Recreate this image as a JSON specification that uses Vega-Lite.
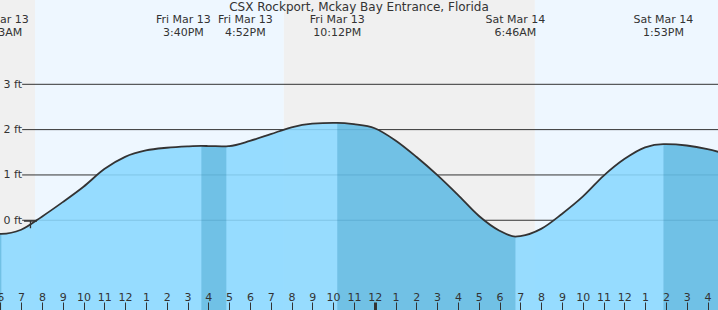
{
  "$schema": "https://vega.github.io/schema/vega-lite/v6.json",
  "width": 718,
  "height": 310,
  "autosize": "none",
  "padding": 0,
  "background": "#ffffff",
  "config": {"view": {"stroke": null}, "font": "DejaVu Sans"},
  "title": {
    "text": "CSX Rockport, Mckay Bay Entrance, Florida",
    "anchor": "middle",
    "offset": -12,
    "dy": 11,
    "baseline": "alphabetic",
    "font": "DejaVu Sans",
    "fontSize": 12,
    "fontWeight": "normal",
    "color": "#333333"
  },
  "datasets": {
    "daylight_bands": [
      {"start": "2026-03-13T00:00:00Z", "end": "2026-03-13T07:40:00Z", "period": "night"},
      {"start": "2026-03-13T07:40:00Z", "end": "2026-03-13T19:38:00Z", "period": "day"},
      {"start": "2026-03-13T19:38:00Z", "end": "2026-03-14T07:42:00Z", "period": "night"},
      {"start": "2026-03-14T07:42:00Z", "end": "2026-03-14T20:00:00Z", "period": "day"}
    ],
    "grid_levels": [
      {"level": 0, "from": "2026-03-13T07:03:00Z", "to": "2026-03-14T17:00:00Z"},
      {"level": 1, "from": "2026-03-13T07:03:00Z", "to": "2026-03-14T17:00:00Z"},
      {"level": 2, "from": "2026-03-13T07:03:00Z", "to": "2026-03-14T17:00:00Z"},
      {"level": 3, "from": "2026-03-13T07:03:00Z", "to": "2026-03-14T17:00:00Z"}
    ],
    "tide_curve": [
      {"time": "2026-03-13T05:00:00Z", "ft": -0.2, "ebb": "A"},
      {"time": "2026-03-13T06:00:00Z", "ft": -0.3, "ebb": "A"},
      {"time": "2026-03-13T06:03:00Z", "ft": -0.3, "ebb": "A"},
      {"time": "2026-03-13T07:00:00Z", "ft": -0.21},
      {"time": "2026-03-13T08:00:00Z", "ft": 0.08},
      {"time": "2026-03-13T09:00:00Z", "ft": 0.4},
      {"time": "2026-03-13T10:00:00Z", "ft": 0.74},
      {"time": "2026-03-13T11:00:00Z", "ft": 1.13},
      {"time": "2026-03-13T12:00:00Z", "ft": 1.4},
      {"time": "2026-03-13T13:00:00Z", "ft": 1.54},
      {"time": "2026-03-13T14:00:00Z", "ft": 1.6},
      {"time": "2026-03-13T15:00:00Z", "ft": 1.63},
      {"time": "2026-03-13T15:40:00Z", "ft": 1.64, "ebb": "B"},
      {"time": "2026-03-13T16:00:00Z", "ft": 1.638, "ebb": "B"},
      {"time": "2026-03-13T16:52:00Z", "ft": 1.63, "ebb": "B"},
      {"time": "2026-03-13T17:00:00Z", "ft": 1.635},
      {"time": "2026-03-13T18:00:00Z", "ft": 1.75},
      {"time": "2026-03-13T19:00:00Z", "ft": 1.9},
      {"time": "2026-03-13T20:00:00Z", "ft": 2.05},
      {"time": "2026-03-13T21:00:00Z", "ft": 2.13},
      {"time": "2026-03-13T22:00:00Z", "ft": 2.15},
      {"time": "2026-03-13T22:12:00Z", "ft": 2.15, "ebb": "C"},
      {"time": "2026-03-13T23:00:00Z", "ft": 2.12, "ebb": "C"},
      {"time": "2026-03-14T00:00:00Z", "ft": 2.03, "ebb": "C"},
      {"time": "2026-03-14T01:00:00Z", "ft": 1.76, "ebb": "C"},
      {"time": "2026-03-14T02:00:00Z", "ft": 1.4, "ebb": "C"},
      {"time": "2026-03-14T03:00:00Z", "ft": 1.0, "ebb": "C"},
      {"time": "2026-03-14T04:00:00Z", "ft": 0.56, "ebb": "C"},
      {"time": "2026-03-14T05:00:00Z", "ft": 0.1, "ebb": "C"},
      {"time": "2026-03-14T06:00:00Z", "ft": -0.23, "ebb": "C"},
      {"time": "2026-03-14T06:46:00Z", "ft": -0.36, "ebb": "C"},
      {"time": "2026-03-14T07:00:00Z", "ft": -0.35},
      {"time": "2026-03-14T08:00:00Z", "ft": -0.19},
      {"time": "2026-03-14T09:00:00Z", "ft": 0.14},
      {"time": "2026-03-14T10:00:00Z", "ft": 0.52},
      {"time": "2026-03-14T11:00:00Z", "ft": 0.98},
      {"time": "2026-03-14T12:00:00Z", "ft": 1.35},
      {"time": "2026-03-14T13:00:00Z", "ft": 1.61},
      {"time": "2026-03-14T13:53:00Z", "ft": 1.68, "ebb": "D"},
      {"time": "2026-03-14T14:00:00Z", "ft": 1.68, "ebb": "D"},
      {"time": "2026-03-14T15:00:00Z", "ft": 1.65, "ebb": "D"},
      {"time": "2026-03-14T16:00:00Z", "ft": 1.57, "ebb": "D"},
      {"time": "2026-03-14T17:00:00Z", "ft": 1.45, "ebb": "D"}
    ],
    "tide_events": [
      {"time": "2026-03-13T06:03:00Z", "label": "Fri Mar 13\n6:03AM", "shift": "none", "ft": -0.3},
      {"time": "2026-03-13T15:40:00Z", "label": "Fri Mar 13\n3:40PM", "shift": "left", "ft": 1.64},
      {"time": "2026-03-13T16:52:00Z", "label": "Fri Mar 13\n4:52PM", "shift": "right", "ft": 1.63},
      {"time": "2026-03-13T22:12:00Z", "label": "Fri Mar 13\n10:12PM", "shift": "none", "ft": 2.15},
      {"time": "2026-03-14T06:46:00Z", "label": "Sat Mar 14\n6:46AM", "shift": "none", "ft": -0.36},
      {"time": "2026-03-14T13:53:00Z", "label": "Sat Mar 14\n1:53PM", "shift": "none", "ft": 1.68}
    ],
    "current_time": [{"time": "2026-03-13T07:27:00Z", "ft": -0.095}]
  },
  "layer": [
    {
      "data": {"name": "daylight_bands"},
      "mark": {"type": "rect", "clip": true},
      "encoding": {
        "x": {
          "field": "start",
          "type": "temporal",
          "scale": {"type": "utc", "domain": [1773381548000, 1773505817000]},
          "axis": {
            "orient": "bottom",
            "title": null,
            "format": "%-I",
            "tickCount": 40,
            "tickSize": -8,
            "tickColor": "#333333",
            "tickWidth": {"condition": {"test": "utchours(datum.value) === 0", "value": 3}, "value": 1},
            "labelPadding": -1.5,
            "labelBaseline": "alphabetic",
            "labelFont": "DejaVu Sans",
            "labelFontSize": 11,
            "labelColor": "#333333",
            "labelFlush": false,
            "labelOverlap": false,
            "labelBound": false,
            "domain": false,
            "grid": false,
            "zindex": 1
          }
        },
        "x2": {"field": "end"},
        "color": {
          "field": "period",
          "type": "nominal",
          "scale": {"domain": ["day", "night"], "range": ["#eef7ff", "#f0f0f0"]},
          "legend": null
        }
      }
    },
    {
      "data": {"name": "grid_levels"},
      "mark": {"type": "rule", "stroke": "#333333", "strokeWidth": 1, "clip": true},
      "encoding": {
        "y": {
          "field": "level",
          "type": "quantitative",
          "scale": {"domain": [-1.98, 4.86], "nice": false, "zero": false},
          "axis": {
            "orient": "left",
            "title": null,
            "values": [0, 1, 2, 3],
            "labelExpr": "datum.value + ' ft'",
            "ticks": false,
            "domain": false,
            "grid": false,
            "labelAlign": "left",
            "labelBaseline": "middle",
            "labelPadding": -3,
            "labelFont": "DejaVu Sans",
            "labelFontSize": 11,
            "labelColor": "#333333",
            "zindex": 1
          }
        },
        "x": {"field": "from", "type": "temporal"},
        "x2": {"field": "to"}
      }
    },
    {
      "data": {"name": "tide_curve"},
      "mark": {"type": "area", "interpolate": "monotone", "fill": "#8ad8ff", "fillOpacity": 0.88, "clip": true},
      "encoding": {
        "x": {"field": "time", "type": "temporal"},
        "y": {"field": "ft", "type": "quantitative"},
        "y2": {"datum": -3}
      }
    },
    {
      "data": {"name": "tide_curve"},
      "transform": [{"filter": "isValid(datum.ebb)"}],
      "mark": {"type": "area", "interpolate": "monotone", "fill": "#006e9b", "fillOpacity": 0.25, "clip": true},
      "encoding": {
        "x": {"field": "time", "type": "temporal"},
        "y": {"field": "ft", "type": "quantitative"},
        "y2": {"datum": -3},
        "detail": {"field": "ebb", "type": "nominal"}
      }
    },
    {
      "data": {"name": "tide_curve"},
      "mark": {"type": "line", "interpolate": "monotone", "stroke": "#333333", "strokeWidth": 1.8, "clip": true},
      "encoding": {
        "x": {"field": "time", "type": "temporal"},
        "y": {"field": "ft", "type": "quantitative"}
      }
    },
    {
      "data": {"name": "current_time"},
      "mark": {"type": "point", "shape": "M-1,-0.55H1M0,-0.55V0.55", "size": 169, "filled": false, "stroke": "#333333", "strokeWidth": 1.3, "opacity": 1},
      "encoding": {
        "x": {"field": "time", "type": "temporal"},
        "y": {"field": "ft", "type": "quantitative"}
      }
    },
    {
      "data": {"name": "tide_events"},
      "transform": [{"filter": "datum.shift == 'none'"}],
      "mark": {"type": "text", "align": "center", "baseline": "alphabetic", "lineBreak": "\n", "font": "DejaVu Sans", "fontSize": 11, "lineHeight": 12.5, "color": "#333333", "clip": true},
      "encoding": {
        "x": {"field": "time", "type": "temporal"},
        "y": {"datum": 4.35},
        "text": {"field": "label", "type": "nominal"}
      }
    },
    {
      "data": {"name": "tide_events"},
      "transform": [{"filter": "datum.shift == 'left'"}],
      "mark": {"type": "text", "align": "center", "baseline": "alphabetic", "lineBreak": "\n", "dx": -18, "font": "DejaVu Sans", "fontSize": 11, "lineHeight": 12.5, "color": "#333333", "clip": true},
      "encoding": {
        "x": {"field": "time", "type": "temporal"},
        "y": {"datum": 4.35},
        "text": {"field": "label", "type": "nominal"}
      }
    },
    {
      "data": {"name": "tide_events"},
      "transform": [{"filter": "datum.shift == 'right'"}],
      "mark": {"type": "text", "align": "center", "baseline": "alphabetic", "lineBreak": "\n", "dx": 19, "font": "DejaVu Sans", "fontSize": 11, "lineHeight": 12.5, "color": "#333333", "clip": true},
      "encoding": {
        "x": {"field": "time", "type": "temporal"},
        "y": {"datum": 4.35},
        "text": {"field": "label", "type": "nominal"}
      }
    }
  ]
}
